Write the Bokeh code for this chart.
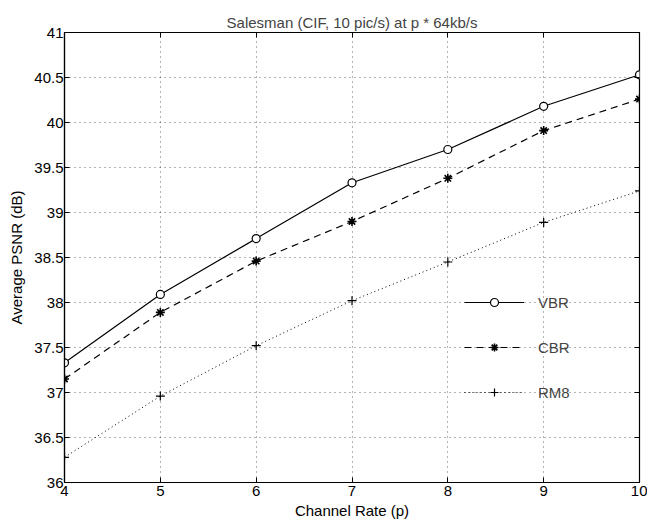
from bokeh.plotting import figure
from bokeh.models import (FixedTicker, LinearAxis, Legend, LegendItem, Range1d, CustomJSTickFormatter)
from bokeh.embed import file_html
from bokeh.resources import INLINE

rate = [4, 5, 6, 7, 8, 9, 10]
vbr = [37.33, 38.09, 38.71, 39.33, 39.70, 40.18, 40.53]
cbr = [37.15, 37.89, 38.46, 38.90, 39.38, 39.91, 40.26]
rm8 = [36.28, 36.96, 37.52, 38.02, 38.45, 38.89, 39.24]

y_ticks = [36, 36.5, 37, 37.5, 38, 38.5, 39, 39.5, 40, 40.5, 41]
y_tick_labels = ["36", "36.5", "37", "37.5", "38", "38.5", "39", "39.5", "40", "40.5", "41"]
x_ticks = [4, 5, 6, 7, 8, 9, 10]

FONT = "Liberation Sans"
FS = "15px"

p = figure(frame_width=575, frame_height=450, output_backend="svg",
           toolbar_location=None, x_range=Range1d(4, 10), y_range=Range1d(36, 41),
           min_border_left=64, min_border_right=8, min_border_top=32, min_border_bottom=30,
           title="Salesman (CIF, 10 pic/s) at p * 64kb/s")
p.title.text_font = FONT
p.title.text_font_size = FS
p.title.text_font_style = "normal"
p.title.align = "center"
p.title.vertical_align = "top"
p.title.offset = 0
p.title.standoff = 0
p.background_fill_color = "white"
p.border_fill_color = "white"
p.outline_line_color = "black"
p.outline_line_width = 1.2
p.outline_line_alpha = 1

for ax in (p.xaxis[0], p.yaxis[0]):
    ax.major_tick_in = 5
    ax.major_tick_out = 0
    ax.minor_tick_line_color = None
    ax.axis_line_color = "black"
    ax.axis_line_width = 1.2
    ax.major_tick_line_color = "black"
    ax.major_label_text_font = FONT
    ax.major_label_text_font_size = FS
    ax.major_label_text_color = "black"
    ax.axis_label_text_font = FONT
    ax.axis_label_text_font_size = FS
    ax.axis_label_text_font_style = "normal"
    ax.axis_label_text_color = "black"

p.xaxis.ticker = FixedTicker(ticks=x_ticks)
p.xaxis.axis_label = "Channel Rate (p)"
p.xaxis.major_label_standoff = 3
p.xaxis.axis_label_standoff = 3
p.yaxis.ticker = FixedTicker(ticks=y_ticks)
p.yaxis.major_label_overrides = {t: l for t, l in zip(y_ticks, y_tick_labels)}
p.yaxis.axis_label = "Average PSNR (dB)"
p.yaxis.major_label_standoff = 1
p.yaxis.axis_label_standoff = 6

# top/right tick marks (MATLAB box), no labels
top = LinearAxis(ticker=FixedTicker(ticks=x_ticks), major_tick_in=5, major_tick_out=0,
                 minor_tick_line_color=None, axis_line_color=None,
                 formatter=CustomJSTickFormatter(code="return '';"), major_label_standoff=0)
right = LinearAxis(ticker=FixedTicker(ticks=y_ticks), major_tick_in=5, major_tick_out=0,
                   minor_tick_line_color=None, axis_line_color=None,
                   formatter=CustomJSTickFormatter(code="return '';"), major_label_standoff=0)
p.add_layout(top, "above")
p.add_layout(right, "right")

p.xgrid.ticker = FixedTicker(ticks=x_ticks)
p.ygrid.ticker = FixedTicker(ticks=y_ticks)
for g in (p.xgrid[0], p.ygrid[0]):
    g.grid_line_color = "black"
    g.grid_line_dash = "1 4"
    g.grid_line_alpha = 0.6
    g.grid_line_width = 1

l1 = p.line(rate, vbr, line_color="black", line_width=1.2)
m1 = p.scatter(rate, vbr, marker="circle", size=8, fill_color="white", line_color="black", line_width=1.2)
l2 = p.line(rate, cbr, line_color="black", line_width=1.2, line_dash="7 5")
m2 = p.scatter(rate, cbr, marker="asterisk", size=9, line_color="black", line_width=1.6)
l3 = p.line(rate, rm8, line_color="black", line_width=1, line_dash="1 3")
m3 = p.scatter(rate, rm8, marker="cross", size=9, line_color="black", line_width=1.2)

legend = Legend(items=[LegendItem(label="VBR", renderers=[l1, m1]),
                       LegendItem(label="CBR", renderers=[l2, m2]),
                       LegendItem(label="RM8", renderers=[l3, m3])],
                location=(400, 80), padding=0, margin=0,
                border_line_alpha=0, background_fill_alpha=0,
                glyph_width=60, glyph_height=20, label_height=20, spacing=25,
                label_standoff=14, label_text_font=FONT, label_text_font_size=FS)
p.add_layout(legend, "center")

open("out.html", "w").write(file_html(p, INLINE))
